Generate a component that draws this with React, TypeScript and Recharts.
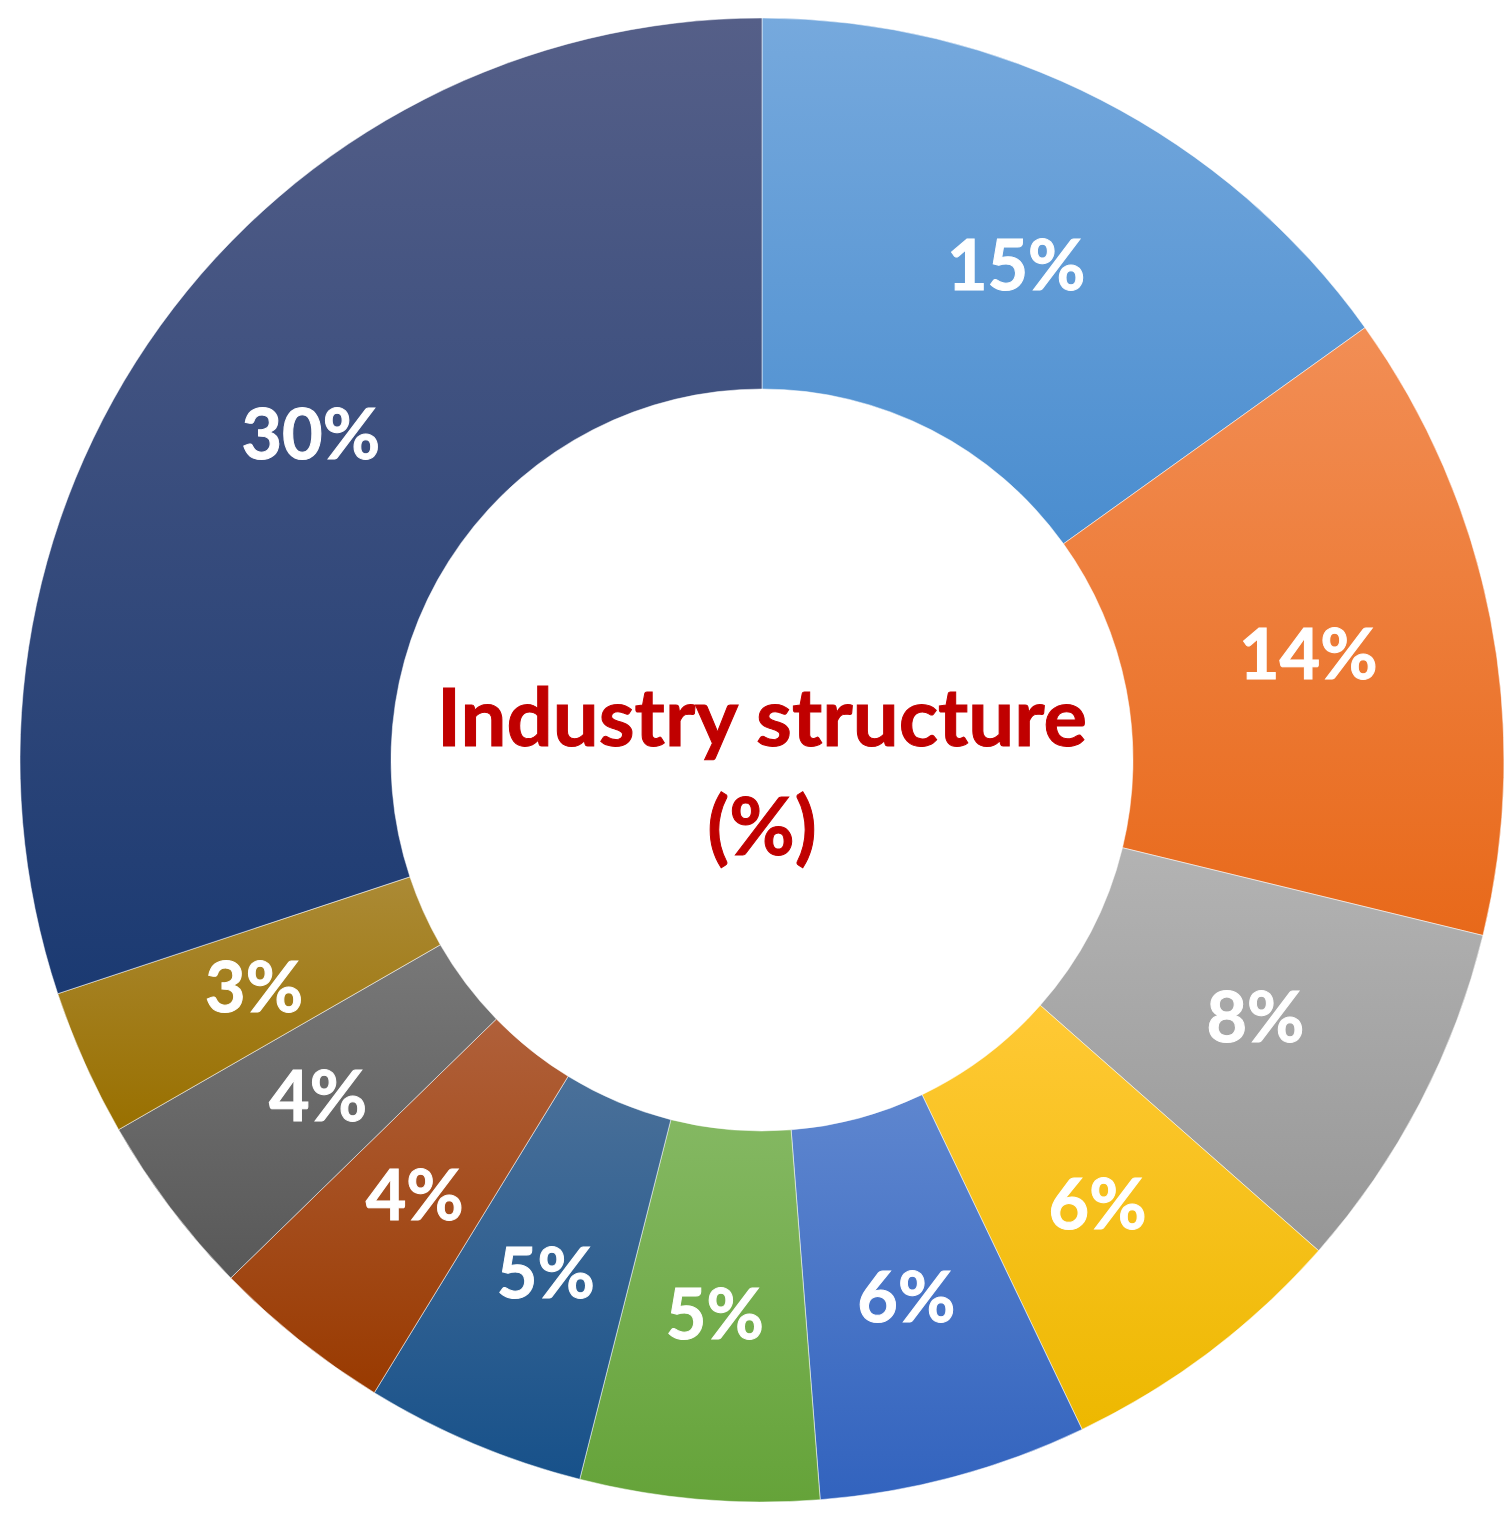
import React from 'react'
import { PieChart, Pie, Cell } from 'recharts'

// slices clockwise from 12 o'clock
const sectors = ['s1', 's2', 's3', 's4', 's5', 's6', 's7', 's8', 's9', 's10', 's11']
const shares = [15.1, 13.7, 7.7, 6.4, 5.85, 5.2, 4.8, 3.95, 4.0, 3.2, 30.1]

// [top, bottom] gradient colours per slice
const GRADIENTS = [
  ['#76A9DD', '#4A8DCF'],
  ['#F28E55', '#E8691A'],
  ['#B3B3B3', '#979797'],
  ['#FFC935', '#EDB800'],
  ['#5E86CF', '#3263BE'],
  ['#84B862', '#65A339'],
  ['#4A7099', '#17518A'],
  ['#B0603A', '#993A00'],
  ['#787878', '#585858'],
  ['#AB8A35', '#997000'],
  ['#555F88', '#1B3A72']
]

const FONT = 'Lato, "Open Sans", sans-serif'
const RAD = Math.PI / 180

const data = sectors.map((name, i) => ({ name, value: shares[i] }))

function renderLabel(props: any) {
  const { cx, cy, midAngle, innerRadius, outerRadius, value } = props
  const r = (innerRadius + outerRadius) / 2
  const x = cx + r * Math.cos(-midAngle * RAD)
  const y = cy + r * Math.sin(-midAngle * RAD)
  return (
    <text
      x={x}
      y={y + 25}
      textAnchor="middle"
      fill="#ffffff"
      fontFamily={FONT}
      fontWeight={700}
      fontSize={70}
      stroke="#ffffff"
      strokeWidth={1}
    >
      {`${Math.round(value)}%`}
    </text>
  )
}

export default function App() {
  return (
    <div style={{ position: 'absolute', left: 0, top: 0, background: '#fff' }}>
      <PieChart width={1512} height={1513} margin={{ top: 0, right: 0, bottom: 0, left: 0 }}>
        <defs>
          {GRADIENTS.map(([a, b], i) => (
            <linearGradient key={i} id={`g${i}`} x1="0" y1="0" x2="0" y2="1">
              <stop offset="0%" stopColor={a} />
              <stop offset="100%" stopColor={b} />
            </linearGradient>
          ))}
        </defs>
        <Pie
          data={data}
          dataKey="value"
          cx={762}
          cy={760}
          innerRadius={371}
          outerRadius={742}
          startAngle={90}
          endAngle={-270}
          stroke="#ffffff"
          strokeOpacity={0.5}
          strokeWidth={1}
          label={renderLabel}
          labelLine={false}
          isAnimationActive={false}
        >
          {data.map((d, i) => (
            <Cell key={d.name} fill={`url(#g${i})`} />
          ))}
        </Pie>
        <text
          x={762}
          y={746}
          textAnchor="middle"
          fill="#C00000"
          stroke="#C00000"
          strokeWidth={1}
          fontFamily={FONT}
          fontWeight={700}
          fontSize={80}
          textLength={650}
          lengthAdjust="spacingAndGlyphs"
        >
          Industry structure
        </text>
        <text
          x={762}
          y={855}
          textAnchor="middle"
          fill="#C00000"
          stroke="#C00000"
          strokeWidth={1}
          fontFamily={FONT}
          fontWeight={700}
          fontSize={80}
        >
          (%)
        </text>
      </PieChart>
    </div>
  )
}
